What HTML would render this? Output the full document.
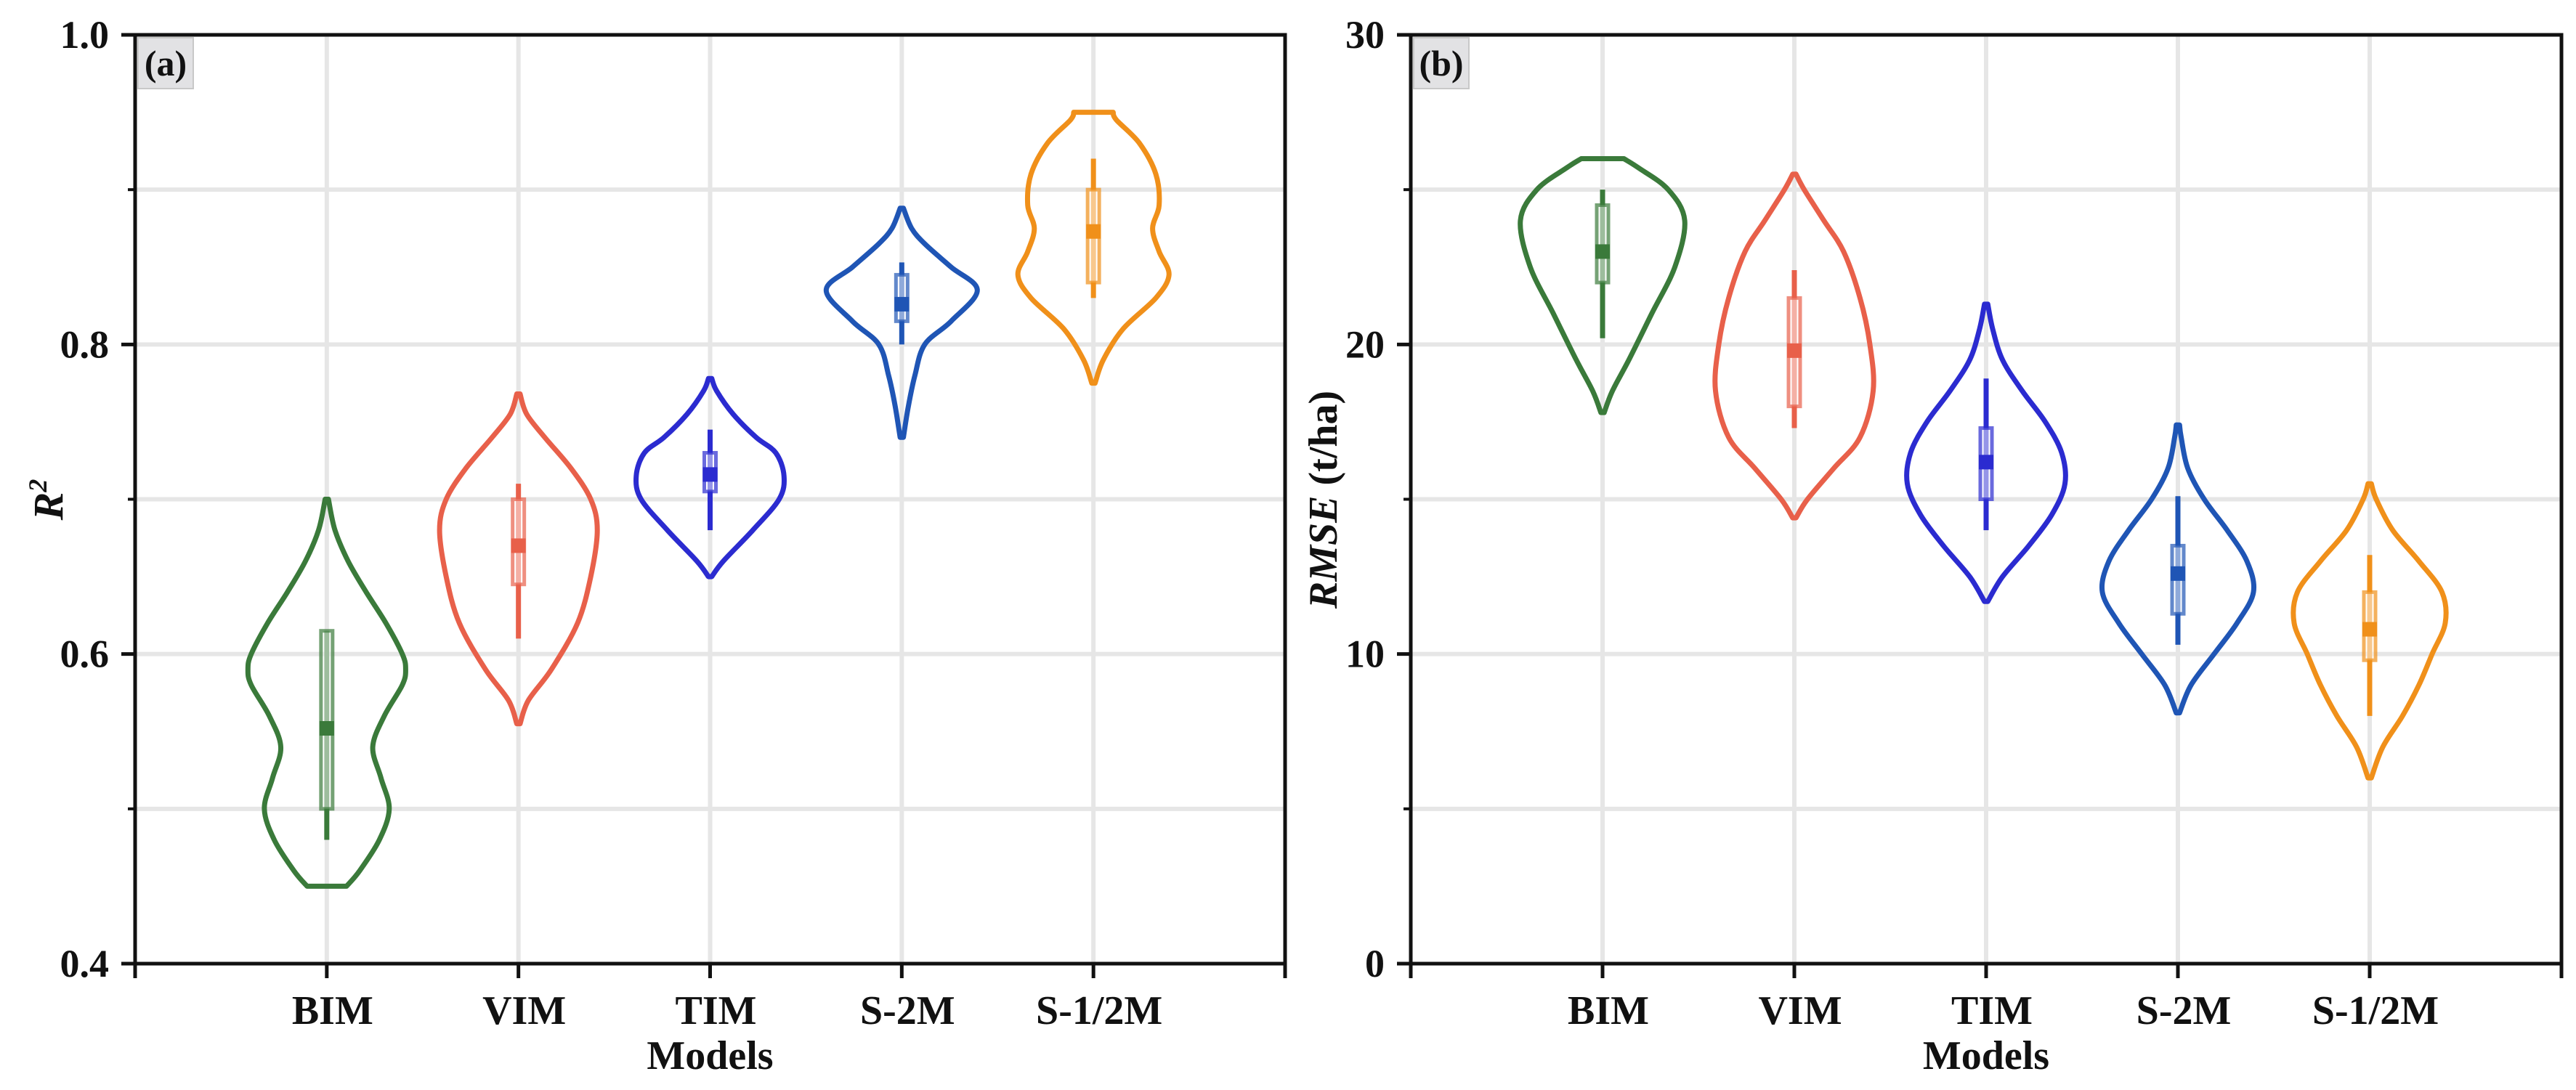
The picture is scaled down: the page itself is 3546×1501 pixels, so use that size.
<!DOCTYPE html>
<html><head><meta charset="utf-8">
<style>
html,body{margin:0;padding:0;background:#fff;}
svg{display:block;}
text{font-family:"Liberation Serif",serif;font-weight:bold;fill:#111;}
</style></head>
<body>
<svg id="chart" width="3546" height="1501" viewBox="0 0 3546 1501"></svg>
<script>
const categories = ["BIM","VIM","TIM","S-2M","S-1/2M"];
const colors = ["#3a7a3a","#e8604a","#2b2bd0","#1f55b5","#f0901a"];
// Panel (a) R2 : violin profiles [value, density]
const r2Values = [
 [0.45,0.46,0.48,0.50,0.52,0.54,0.56,0.58,0.59,0.60,0.62,0.64,0.66,0.68,0.70],
 [0.555,0.57,0.59,0.62,0.65,0.68,0.70,0.72,0.74,0.755,0.768],
 [0.65,0.66,0.68,0.70,0.715,0.73,0.74,0.755,0.77,0.778],
 [0.74,0.76,0.78,0.80,0.815,0.835,0.85,0.865,0.875,0.888],
 [0.775,0.79,0.81,0.83,0.845,0.86,0.875,0.89,0.91,0.93,0.945,0.95]
];
const r2Density = [
 [12,20,32,38,33,28,35,46,48,46,36,24,13,5,1],
 [1,6,20,36,44,48,44,32,16,5,1],
 [1,8,26,42,45,40,28,14,4,1],
 [1,4,8,14,30,46,30,14,6,1],
 [1,6,18,38,46,40,36,40,38,28,14,12]
];
const r2Q1 = [0.50,0.645,0.705,0.815,0.84];
const r2Q3 = [0.615,0.70,0.73,0.845,0.90];
const r2WLo = [0.48,0.61,0.68,0.80,0.83];
const r2WHi = [0.615,0.71,0.745,0.853,0.92];
const r2Mean = [0.552,0.67,0.716,0.826,0.873];
const r2Ticks = [0.4,0.6,0.8,1.0];
const r2TickLabels = ["0.4","0.6","0.8","1.0"];
const r2Grid = [0.5,0.6,0.7,0.8,0.9];
// Panel (b) RMSE
const rmseValues = [
 [17.8,18.5,19.5,21,22.5,24,25,25.7,26],
 [14.4,15,16,17,18.5,20,21.5,23,24,25,25.5],
 [11.7,12.5,13.5,14.5,15.5,16.5,17.5,18.5,19.5,20.5,21.3],
 [8.1,9,10,11,12,13,14,15,16,17,17.4],
 [6,7,8,9,10,11,12,13,14,15,15.5]
];
const rmseDensity = [
 [1,6,16,30,44,50,40,22,13],
 [1,8,24,40,48,46,40,30,18,6,1],
 [1,10,26,40,48,46,36,22,10,4,1],
 [1,8,22,36,46,42,30,16,6,2,1],
 [1,8,20,30,38,46,44,30,14,4,1]
];
const rmseQ1 = [22,18,15,11.3,9.8];
const rmseQ3 = [24.5,21.5,17.3,13.5,12];
const rmseWLo = [20.2,17.3,14,10.3,8];
const rmseWHi = [25,22.4,18.9,15.1,13.2];
const rmseMean = [23,19.8,16.2,12.6,10.8];
const rmseTicks = [0,10,20,30];
const rmseTickLabels = ["0","10","20","30"];
const rmseGrid = [5,10,15,20,25];

const NS="http://www.w3.org/2000/svg";
const svg=document.getElementById('chart');
function el(tag,attrs,parent){const e=document.createElementNS(NS,tag);for(const k in attrs)e.setAttribute(k,attrs[k]);(parent||svg).appendChild(e);return e;}

function smoothPath(pts){
  let d="M"+pts[0][0]+","+pts[0][1];
  for(let i=0;i<pts.length-1;i++){
    const p0=pts[Math.max(0,i-1)],p1=pts[i],p2=pts[i+1],p3=pts[Math.min(pts.length-1,i+2)];
    const c1=[p1[0]+(p2[0]-p0[0])/6,p1[1]+(p2[1]-p0[1])/6];
    const c2=[p2[0]-(p3[0]-p1[0])/6,p2[1]-(p3[1]-p1[1])/6];
    d+=" C"+c1[0].toFixed(1)+","+c1[1].toFixed(1)+" "+c2[0].toFixed(1)+","+c2[1].toFixed(1)+" "+p2[0].toFixed(1)+","+p2[1].toFixed(1);
  }
  return d;
}

function panel(cfg){
  const {left,right,top,bottom,ymin,ymax}=cfg;
  const g=el('g',{});
  
  
  const xs=c=>left+(right-left)*(c/6);
  const ys=v=>bottom-(bottom-top)*(v-ymin)/(ymax-ymin);
  const dScale=2.261;
  cfg.grid.forEach(v=>{const l=el('line',{x1:left,x2:right,y1:ys(v),y2:ys(v),stroke:'#e6e6e6','stroke-width':6},g);
    });
  categories.forEach((c,i)=>{const l=el('line',{x1:xs(i+1),x2:xs(i+1),y1:top,y2:bottom,stroke:'#e6e6e6','stroke-width':6},g);
    });
  const lb=el('rect',{x:left+4,y:top+4,width:76,height:70,fill:'#e2e2e4',stroke:'#c8c8c8','stroke-width':2},g);
  
  const lt=el('text',{x:left+42,y:top+56,'text-anchor':'middle','font-size':50},g);lt.textContent=cfg.label;
  
  categories.forEach((c,i)=>{
    const cx=xs(i+1);const vals=cfg.values[i],den=cfg.density[i];
    const rightPts=vals.map((v,k)=>[cx+den[k]*dScale,ys(v)]);
    const leftPts=vals.map((v,k)=>[cx-den[k]*dScale,ys(v)]).reverse();
    let d=smoothPath(rightPts)+" L"+leftPts[0][0]+","+leftPts[0][1]+smoothPath(leftPts).replace(/^M[^ ]+/,"")+" Z";
    const p=el('path',{d:d,fill:'none',stroke:colors[i],'stroke-width':7,'stroke-linejoin':'round'},g);
    
    const w=el('line',{x1:cx,x2:cx,y1:ys(cfg.wlo[i]),y2:ys(cfg.whi[i]),stroke:colors[i],'stroke-width':7},g);
    
    const b=el('rect',{x:cx-8,y:ys(cfg.q3[i]),width:16,height:ys(cfg.q1[i])-ys(cfg.q3[i]),fill:'#ffffff','fill-opacity':0.5,stroke:colors[i],'stroke-opacity':0.7,'stroke-width':5},g);
    
    const m=el('rect',{x:cx-10,y:ys(cfg.mean[i])-10,width:20,height:20,fill:colors[i]},g);
    
  });
  const fr=el('rect',{x:left,y:top,width:right-left,height:bottom-top,fill:'none',stroke:'#111','stroke-width':5},g);
  
  cfg.ticks.forEach((v,k)=>{
    const t=el('line',{x1:left-19,x2:left,y1:ys(v),y2:ys(v),stroke:'#111','stroke-width':5},g);
    
    const tl=el('text',{x:left-36,y:ys(v)+18,'text-anchor':'end','font-size':54},g);tl.textContent=cfg.tickLabels[k];
    
  });
  cfg.grid.forEach(v=>{const t=el('line',{x1:left-10,x2:left,y1:ys(v),y2:ys(v),stroke:'#111','stroke-width':4},g);
    });
  for(let c=0;c<=6;c++){const t=el('line',{x1:xs(c),x2:xs(c),y1:bottom,y2:bottom+20,stroke:'#111','stroke-width':5},g);
    }
  categories.forEach((c,i)=>{const t=el('text',{x:xs(i+1)+8,y:bottom+83,'text-anchor':'middle','font-size':56},g);t.textContent=c;
    });
  const xt=el('text',{x:(left+right)/2,y:bottom+145,'text-anchor':'middle','font-size':56},g);xt.textContent='Models';
  
  return g;
}

panel({name:'panel-a-r2',left:186,right:1769,top:48,bottom:1327,ymin:0.4,ymax:1.0,label:'(a)',
  values:r2Values,density:r2Density,q1:r2Q1,q3:r2Q3,wlo:r2WLo,whi:r2WHi,mean:r2Mean,ticks:r2Ticks,tickLabels:r2TickLabels,grid:r2Grid});
panel({name:'panel-b-rmse',left:1942,right:3526,top:48,bottom:1327,ymin:0,ymax:30,label:'(b)',
  values:rmseValues,density:rmseDensity,q1:rmseQ1,q3:rmseQ3,wlo:rmseWLo,whi:rmseWHi,mean:rmseMean,ticks:rmseTicks,tickLabels:rmseTickLabels,grid:rmseGrid});

const ya=el('text',{x:0,y:0,'text-anchor':'middle','font-size':58,transform:'translate(86,688) rotate(-90)','font-style':'italic'});

ya.innerHTML='R<tspan dy="-22" font-size="36">2</tspan>';
const yb=el('text',{x:0,y:0,'text-anchor':'middle','font-size':56,transform:'translate(1840,688) rotate(-90)'});

yb.innerHTML='<tspan font-style="italic">RMSE</tspan> (t/ha)';
</script>
</body></html>
